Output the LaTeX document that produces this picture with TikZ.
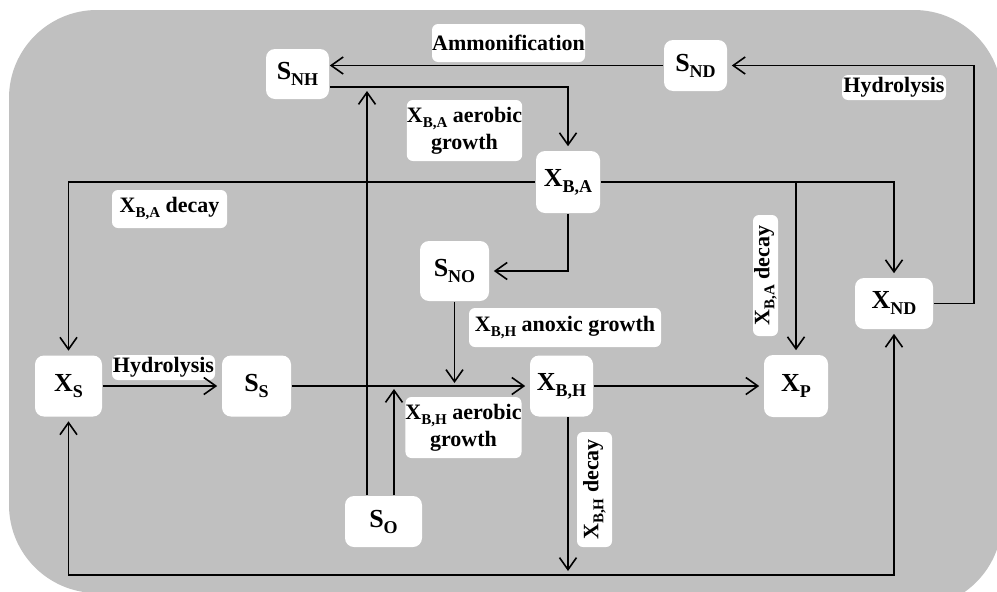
\documentclass[tikz,border=0pt]{standalone}
\usepackage{fontspec}
\setmainfont{Liberation Serif}
\usetikzlibrary{arrows.meta}

% lowered subscripts for the state boxes and for the process tags
\newcommand\nsb[1]{\raisebox{-6pt}{\fontsize{18}{18}\selectfont #1}}
\newcommand\lsb[1]{\raisebox{-5pt}{\fontsize{15}{15}\selectfont #1}}

\definecolor{panel}{RGB}{192,192,192}

\begin{document}
\begin{tikzpicture}[x=1pt,y=-1pt,
  line width=1.6pt,
  >={Straight Barb[length=12pt,width=17pt]},
  flow/.style={->,shorten >=4pt},
  state/.style={fill=white,rounded corners=9pt,inner sep=0pt,
    font=\fontsize{26}{28}\selectfont\bfseries},
  tag/.style={fill=white,rounded corners=6pt,inner sep=0pt,align=center,
    font=\fontsize{22}{27}\selectfont\bfseries},
]
\useasboundingbox (0,0) rectangle (997,592);
\clip (0,0) rectangle (997,592);

% grey panel behind the model
\fill[panel] (97,10) -- (914,10) arc[start angle=90,end angle=0,radius=88pt]
  -- (1002,520) arc[start angle=0,end angle=-90,radius=88pt]
  -- (97,593) arc[start angle=-90,end angle=-180,radius=88pt]
  -- (9,98) arc[start angle=180,end angle=90,radius=88pt] -- cycle;

% state variables
\node[state,minimum width=63pt,minimum height=50pt] (SNH) at (297.5,74) {S\nsb{NH}};
\node[state,minimum width=63pt,minimum height=51pt] (SND) at (695.5,65.5) {S\nsb{ND}};
\node[state,minimum width=64pt,minimum height=62pt] (XBA) at (568,182) {X\nsb{B,A}};
\node[state,minimum width=69pt,minimum height=60pt] (SNO) at (454.5,271) {S\nsb{NO}};
\node[state,minimum width=67pt,minimum height=61pt] (XS) at (68.5,386) {X\nsb{S}};
\node[state,minimum width=69pt,minimum height=61pt] (SS) at (256.5,386) {S\nsb{S}};
\node[state,minimum width=63pt,minimum height=61pt] (XBH) at (561.5,386) {X\nsb{B,H}};
\node[state,minimum width=64pt,minimum height=62pt] (XP) at (796,386) {X\nsb{P}};
\node[state,minimum width=78pt,minimum height=51pt] (XND) at (894,303.5) {X\nsb{ND}};
\node[state,minimum width=77pt,minimum height=51pt] (SO) at (383.5,521.5) {S\nsb{O}};

% process tags
\node[tag,minimum width=153pt,minimum height=38pt] (tAmm) at (508.5,43) {Ammonification};
\node[tag,minimum width=104pt,minimum height=25pt] (tHydN) at (894,87.5) {Hydrolysis};
\node[tag,minimum width=103pt,minimum height=25pt] (tHydS) at (163.5,367.5) {Hydrolysis};
\node[tag,minimum width=115pt,minimum height=61pt] (tAerA) at (464.5,130.5) {X\lsb{B,A} aerobic\\growth};
\node[tag,minimum width=115pt,minimum height=38pt] (tDecA) at (169.5,209) {X\lsb{B,A} decay};
\node[tag,minimum width=192pt,minimum height=39pt] (tAnox) at (565,327.5) {X\lsb{B,H} anoxic growth};
\node[tag,minimum width=115pt,minimum height=61pt] (tAerH) at (463.5,427.5) {X\lsb{B,H} aerobic\\growth};
\node[tag,rotate=90,minimum width=121pt,minimum height=25pt] (tDecA2) at (765.5,275.5) {X\lsb{B,A} decay};
\node[tag,rotate=90,minimum width=115pt,minimum height=35pt] (tDecH) at (594.5,489.5) {X\lsb{B,H} decay};

% helper points on the connectors
\coordinate (nhout) at ([yshift=-13pt]SNH.east);
\coordinate (o1) at ([xshift=-16.5pt]SO.north);
\coordinate (o2) at ([xshift=10.5pt]SO.north);
\coordinate (hd) at ([xshift=6.5pt]XBH.south);
\coordinate (bot) at (568,575);
\coordinate (rt) at (974,65.5);

% nitrogen cycle
\draw[->] (SND.west) -- (SND.west -| SNH.east);
\draw[flow] (nhout) -| (XBA.north);
\draw[flow] (o1) -- (o1 |- nhout);
\draw[flow] (XND.east) -| (rt) -- (SND.east);

% autotroph decay and nitrification
\draw[flow] (XBA.west) -| (XS.north);
\draw[flow] (XBA.east) -| (XND.north);
\draw[flow] (XBA.east -| XP.north) -- (XP.north);
\draw[flow] (XBA.south) |- (SNO.east);

% heterotroph growth
\draw[->,shorten >=3pt] (SNO.south) -- (SNO.south |- SS.east);
\draw[flow] (XS.east) -- (SS.west);
\draw[flow] (SS.east) -- (XBH.west);
\draw[->,shorten >=3pt] (o2) -- (o2 |- XBH.west);
\draw[flow] (XBH.east) -- (XP.west);

% heterotroph decay back to X_S and X_ND
\draw[flow] (hd) -- (hd |- bot);
\draw[<->,shorten >=4pt,shorten <=4pt] (XS.south) |- (bot) -| (XND.south);
\end{tikzpicture}
\end{document}
